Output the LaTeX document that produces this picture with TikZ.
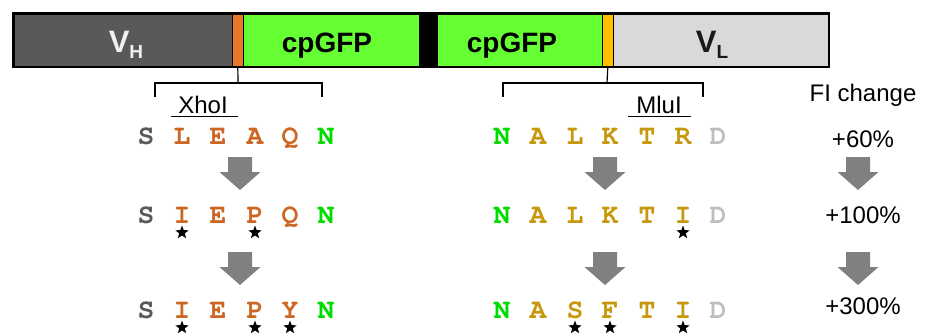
\documentclass[tikz,border=0pt]{standalone}
\usepackage{fontspec}
\usetikzlibrary{shapes.geometric}
\setmainfont{Liberation Sans}
\newfontfamily\monob{TeX Gyre Cursor}
\definecolor{vhgray}{RGB}{89,89,89}
\definecolor{gfpgreen}{RGB}{102,255,51}
\definecolor{vlgray}{RGB}{217,217,217}
\definecolor{linkor}{RGB}{230,120,40}
\definecolor{linkye}{RGB}{255,192,0}
\definecolor{aaS}{RGB}{89,89,89}
\definecolor{aaO}{RGB}{204,102,34}
\definecolor{aaY}{RGB}{200,152,12}
\definecolor{aaG}{RGB}{0,220,0}
\definecolor{aaD}{RGB}{190,190,190}
\definecolor{arrgray}{RGB}{128,128,128}
\tikzset{
  seg/.style={draw=black, line width=0.6pt, anchor=north west, inner sep=0pt, minimum height=52pt},
  bartext/.style={font=\bfseries\fontsize{28}{28}\selectfont},
  vtext/.style={font=\bfseries\fontsize{31}{31}\selectfont, anchor=base},
  aa/.style={anchor=base, inner sep=0pt, font=\monob\bfseries\fontsize{28}{28}\selectfont},
  starmark/.style={star, star points=5, star point ratio=2.4, fill=black, inner sep=0pt, minimum size=14pt},
  lab/.style={anchor=base, inner sep=0pt, font=\fontsize{24}{24}\selectfont},
  fi/.style={anchor=base, inner sep=0pt, font=\fontsize{24}{24}\selectfont},
  brk/.style={line width=1.2pt, black},
  pics/blockarrow/.style={code={
    \fill[arrgray] (-12,0) -- (12,0) -- (12,15) -- (20.5,15) -- (0,33) -- (-20.5,15) -- (-12,15) -- cycle;
  }}
}
\begin{document}
\begin{tikzpicture}[x=1pt,y=-1pt]
\useasboundingbox (0,0) rectangle (925,335);
% bar segments
\node[seg, fill=vhgray, minimum width=218pt] (vh) at (14,14) {};
\node[seg, fill=linkor, minimum width=11pt] (lk1) at (232,14) {};
\node[seg, fill=gfpgreen, minimum width=176pt] (gfp1) at (243,14) {};
\node[seg, fill=black, minimum width=18pt] (blk) at (419,14) {};
\node[seg, fill=gfpgreen, minimum width=165pt] (gfp2) at (437,14) {};
\node[seg, fill=linkye, minimum width=11pt] (lk2) at (602,14) {};
\node[seg, fill=vlgray, minimum width=215pt] (vl) at (613,14) {};
\draw[line width=2pt] (13,13) rectangle (829,67);
% bar labels
\node[vtext, text=white!94!black] (vht) at (126,52) {V\raisebox{-6pt}{\fontsize{19}{19}\selectfont H}};
\node[bartext, anchor=base] (gfpt1) at (327,52) {cpGFP};
\node[bartext, anchor=base] (gfpt2) at (512,52) {cpGFP};
\node[vtext, text=black!90] (vlt) at (712,52) {V\raisebox{-6pt}{\fontsize{19}{19}\selectfont L}};
% brackets
\coordinate (t1) at (238,83);
\coordinate (t2) at (607,83);
\draw[brk] (lk1.south) -- (t1);
\draw[brk] (155,97) -- (155,83) -- (322,83) -- (322,97);
\draw[brk] (lk2.south) -- (t2);
\draw[brk] (503,97) -- (503,83) -- (703,83) -- (703,97);
% enzyme labels
\node[lab] (xho) at (203,113) {XhoI};
\draw[line width=1pt] (171,116) -- (238,116);
\node[lab] (mlu) at (659,113) {MluI};
\draw[line width=1pt] (628,116) -- (691,116);
% left sequences
\foreach \x/\l/\c [count=\i] in {146/S/aaS,182/L/aaO,218/E/aaO,255/A/aaO,290/Q/aaO,326/N/aaG}
  \node[aa, text=\c] (la\i) at (\x,144) {\l};
\foreach \x/\l/\c [count=\i] in {146/S/aaS,182/I/aaO,218/E/aaO,255/P/aaO,290/Q/aaO,326/N/aaG}
  \node[aa, text=\c] (lb\i) at (\x,223) {\l};
\foreach \x/\l/\c [count=\i] in {146/S/aaS,182/I/aaO,218/E/aaO,255/P/aaO,290/Y/aaO,326/N/aaG}
  \node[aa, text=\c] (lc\i) at (\x,318) {\l};
% right sequences
\foreach \x/\l/\c [count=\i] in {502/N/aaG,538/A/aaY,575/L/aaY,610/K/aaY,647/T/aaY,683/R/aaY,718/D/aaD}
  \node[aa, text=\c] (ra\i) at (\x,144) {\l};
\foreach \x/\l/\c [count=\i] in {502/N/aaG,538/A/aaY,575/L/aaY,610/K/aaY,647/T/aaY,683/I/aaY,718/D/aaD}
  \node[aa, text=\c] (rb\i) at (\x,223) {\l};
\foreach \x/\l/\c [count=\i] in {502/N/aaG,538/A/aaY,575/S/aaY,610/F/aaY,647/T/aaY,683/I/aaY,718/D/aaD}
  \node[aa, text=\c] (rc\i) at (\x,318) {\l};
% stars
\foreach \x [count=\i] in {182,255}
  \node[starmark] (sb\i) at (\x,232.5) {};
\foreach \x [count=\i] in {182,255,290}
  \node[starmark] (sc\i) at (\x,327.5) {};
\node[starmark] (rsb1) at (683,232.5) {};
\foreach \x [count=\i] in {575,610,683}
  \node[starmark] (rsc\i) at (\x,327.5) {};
% arrows
\pic at (240,157) {blockarrow};
\pic at (240,252) {blockarrow};
\pic at (605,157) {blockarrow};
\pic at (605,252) {blockarrow};
\pic at (858,157) {blockarrow};
\pic at (858,252) {blockarrow};
% FI column
\node[lab] (fic) at (863,101) {FI change};
\node[fi] (f1) at (863,147) {+60\%};
\node[fi] (f2) at (863,223) {+100\%};
\node[fi] (f3) at (863,314) {+300\%};
\end{tikzpicture}
\end{document}
